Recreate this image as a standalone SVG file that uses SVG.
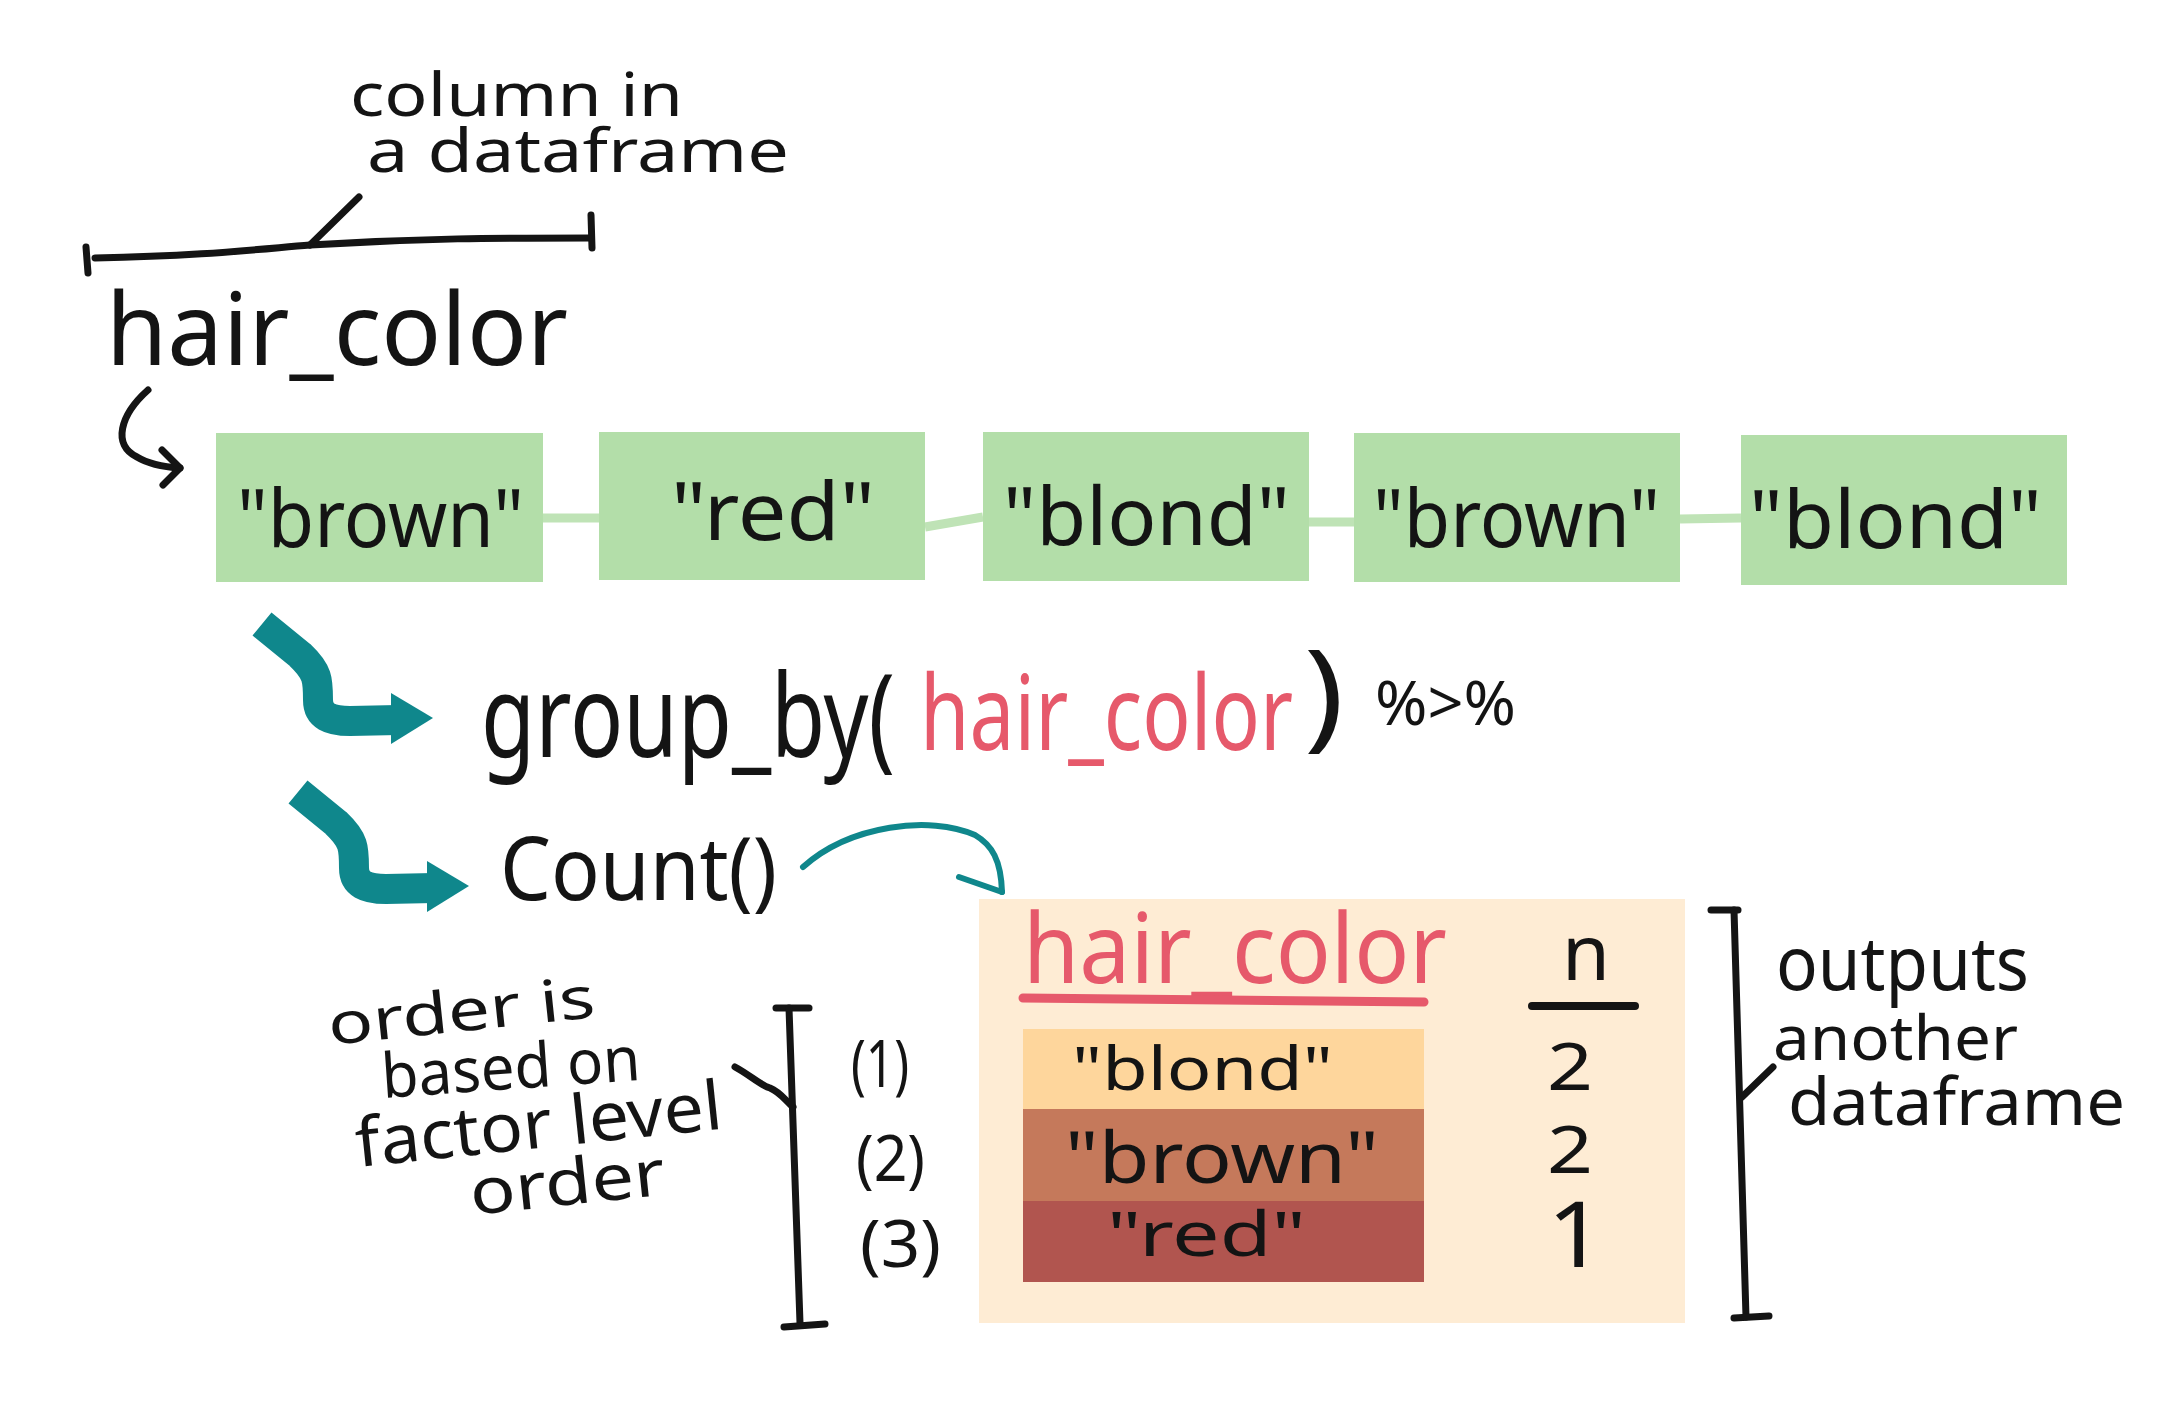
<svg xmlns="http://www.w3.org/2000/svg" width="2184" height="1407" viewBox="0 0 2184 1407">
<style>
.h{font-family:"Noto Sans","Liberation Sans",sans-serif;fill:#141414}
.red{fill:#e6596b}
.ink{fill:none;stroke:#141414;stroke-width:7;stroke-linecap:round;stroke-linejoin:round}
.teal{fill:none;stroke:#0f878c;stroke-linecap:round;stroke-linejoin:round}
.box{fill:#b3dea9}
.link{stroke:#bfe3b6;stroke-width:9;fill:none}
</style>
<rect width="2184" height="1407" fill="#ffffff"/>

<g id="column-label">
<path class="ink" d="M95,258 C200,256 250,250 310,245 C420,238 500,238 591,238"/>
<path class="ink" d="M86,247 L88,273"/>
<path class="ink" d="M591,215 L592,248"/>
<path class="ink" d="M310,245 L359,197"/>
<text class="h" x="350" y="116" font-size="60" textLength="333" lengthAdjust="spacingAndGlyphs">column in</text>
<text class="h" x="367" y="172" font-size="60" textLength="422" lengthAdjust="spacingAndGlyphs">a dataframe</text>
</g>

<g id="hair-color-title">
<text class="h" x="106" y="365" font-size="100" textLength="462" lengthAdjust="spacingAndGlyphs">hair_color</text>
<path class="ink" d="M148,390 C120,415 112,445 137,457 C150,465 165,467 180,468"/>
<path class="ink" d="M162,450 L180,468 L163,485"/>
</g>

<g id="connectors">
<path class="link" d="M543,518 L599,518"/>
<path class="link" d="M925,527 L983,517"/>
<path class="link" d="M1309,522 L1354,522"/>
<path class="link" d="M1680,519 L1741,518"/>
<path class="teal" stroke-width="6" d="M803,867 C850,825 930,815 975,835 C992,845 1001,860 1002,892"/>
<path class="teal" stroke-width="6" d="M959,877 L1002,892"/>
</g>

<g id="v1"><rect class="box" x="216" y="433" width="327" height="149"/>
<text class="h" x="237" y="547" font-size="80" textLength="287" lengthAdjust="spacingAndGlyphs">"brown"</text></g>
<g id="v2"><rect class="box" x="599" y="432" width="326" height="148"/>
<text class="h" x="671" y="540" font-size="80" textLength="204" lengthAdjust="spacingAndGlyphs">"red"</text></g>
<g id="v3"><rect class="box" x="983" y="432" width="326" height="149"/>
<text class="h" x="1003" y="545" font-size="80" textLength="287" lengthAdjust="spacingAndGlyphs">"blond"</text></g>
<g id="v4"><rect class="box" x="1354" y="433" width="326" height="149"/>
<text class="h" x="1373" y="547" font-size="80" textLength="287" lengthAdjust="spacingAndGlyphs">"brown"</text></g>
<g id="v5"><rect class="box" x="1741" y="435" width="326" height="150"/>
<text class="h" x="1749" y="548" font-size="80" textLength="293" lengthAdjust="spacingAndGlyphs">"blond"</text></g>

<g id="step-group-by">
<path d="M262,624 L300,655 C318,672 318,680 318,700 C318,716 330,721 350,721 L398,720" fill="none" stroke="#0f878c" stroke-width="30" stroke-linejoin="round"/>
<polygon points="391,693 433,718 391,744" fill="#0f878c"/>
<text class="h" x="481" y="757" font-size="115" textLength="414" lengthAdjust="spacingAndGlyphs">group_by(</text>
<text class="h red" x="920" y="750" font-size="105" textLength="373" lengthAdjust="spacingAndGlyphs">hair_color</text>
<text class="h" x="1304" y="735" font-size="118" textLength="40" lengthAdjust="spacingAndGlyphs">)</text>
<text class="h" x="1375" y="725" font-size="62" textLength="141" lengthAdjust="spacingAndGlyphs">%&gt;%</text>
</g>

<g id="step-count">
<g transform="translate(36,168)">
<path d="M262,624 L300,655 C318,672 318,680 318,700 C318,716 330,721 350,721 L398,720" fill="none" stroke="#0f878c" stroke-width="30" stroke-linejoin="round"/>
<polygon points="391,693 433,718 391,744" fill="#0f878c"/>
</g>
<text class="h" x="500" y="900" font-size="88" textLength="277" lengthAdjust="spacingAndGlyphs">Count()</text>
</g>

<g id="result-table">
<rect x="979" y="899" width="706" height="424" fill="#feecd4"/>
<text class="h red" x="1023" y="983" font-size="96" textLength="424" lengthAdjust="spacingAndGlyphs">hair_color</text>
<path d="M1023,998 L1424,1002" stroke="#e6596b" stroke-width="9" stroke-linecap="round"/>
<text class="h" x="1562" y="980" font-size="77" textLength="48" lengthAdjust="spacingAndGlyphs">n</text>
<path d="M1532,1006 L1635,1006" stroke="#141414" stroke-width="8" stroke-linecap="round"/>
<rect x="1023" y="1029" width="401" height="80" fill="#fed69c"/>
<rect x="1023" y="1109" width="401" height="92" fill="#c5795b"/>
<rect x="1023" y="1201" width="401" height="81" fill="#b1554f"/>
<text class="h" x="1072" y="1090" font-size="60" textLength="261" lengthAdjust="spacingAndGlyphs">"blond"</text>
<text class="h" x="1065" y="1183" font-size="72" textLength="314" lengthAdjust="spacingAndGlyphs">"brown"</text>
<text class="h" x="1107" y="1256" font-size="62" textLength="199" lengthAdjust="spacingAndGlyphs">"red"</text>
<text class="h" x="1547" y="1090" font-size="66" textLength="46" lengthAdjust="spacingAndGlyphs">2</text>
<text class="h" x="1547" y="1173" font-size="66" textLength="46" lengthAdjust="spacingAndGlyphs">2</text>
<text class="h" x="1547" y="1267" font-size="92" textLength="58" lengthAdjust="spacingAndGlyphs">1</text>
</g>

<g id="outputs-note">
<path class="ink" d="M1711,910 L1738,910"/>
<path class="ink" d="M1734,910 L1746,1317"/>
<path class="ink" d="M1734,1318 L1769,1316"/>
<path class="ink" d="M1742,1097 L1773,1067"/>
<text class="h" x="1776" y="990" font-size="74" textLength="253" lengthAdjust="spacingAndGlyphs">outputs</text>
<text class="h" x="1773" y="1060" font-size="62" textLength="245" lengthAdjust="spacingAndGlyphs">another</text>
<text class="h" x="1788" y="1125" font-size="66" textLength="337" lengthAdjust="spacingAndGlyphs">dataframe</text>
</g>

<g id="order-note">
<text class="h" x="330" y="1045" font-size="58" textLength="268" lengthAdjust="spacingAndGlyphs" transform="rotate(-6 330 1045)">order is</text>
<text class="h" x="383" y="1098" font-size="62" textLength="259" lengthAdjust="spacingAndGlyphs" transform="rotate(-4 383 1098)">based on</text>
<text class="h" x="358" y="1167" font-size="68" textLength="368" lengthAdjust="spacingAndGlyphs" transform="rotate(-6 358 1167)">factor level</text>
<text class="h" x="472" y="1215" font-size="64" textLength="196" lengthAdjust="spacingAndGlyphs" transform="rotate(-6 472 1215)">order</text>
<path class="ink" d="M735,1067 C750,1075 760,1085 770,1088 C780,1092 785,1100 793,1107"/>
<path class="ink" d="M776,1008 L809,1008"/>
<path class="ink" d="M789,1008 L800,1323"/>
<path class="ink" d="M784,1327 L825,1324"/>
<text class="h" x="851" y="1087" font-size="66" textLength="58" lengthAdjust="spacingAndGlyphs">(1)</text>
<text class="h" x="856" y="1181" font-size="63" textLength="69" lengthAdjust="spacingAndGlyphs">(2)</text>
<text class="h" x="860" y="1267" font-size="66" textLength="81" lengthAdjust="spacingAndGlyphs">(3)</text>
</g>
</svg>
